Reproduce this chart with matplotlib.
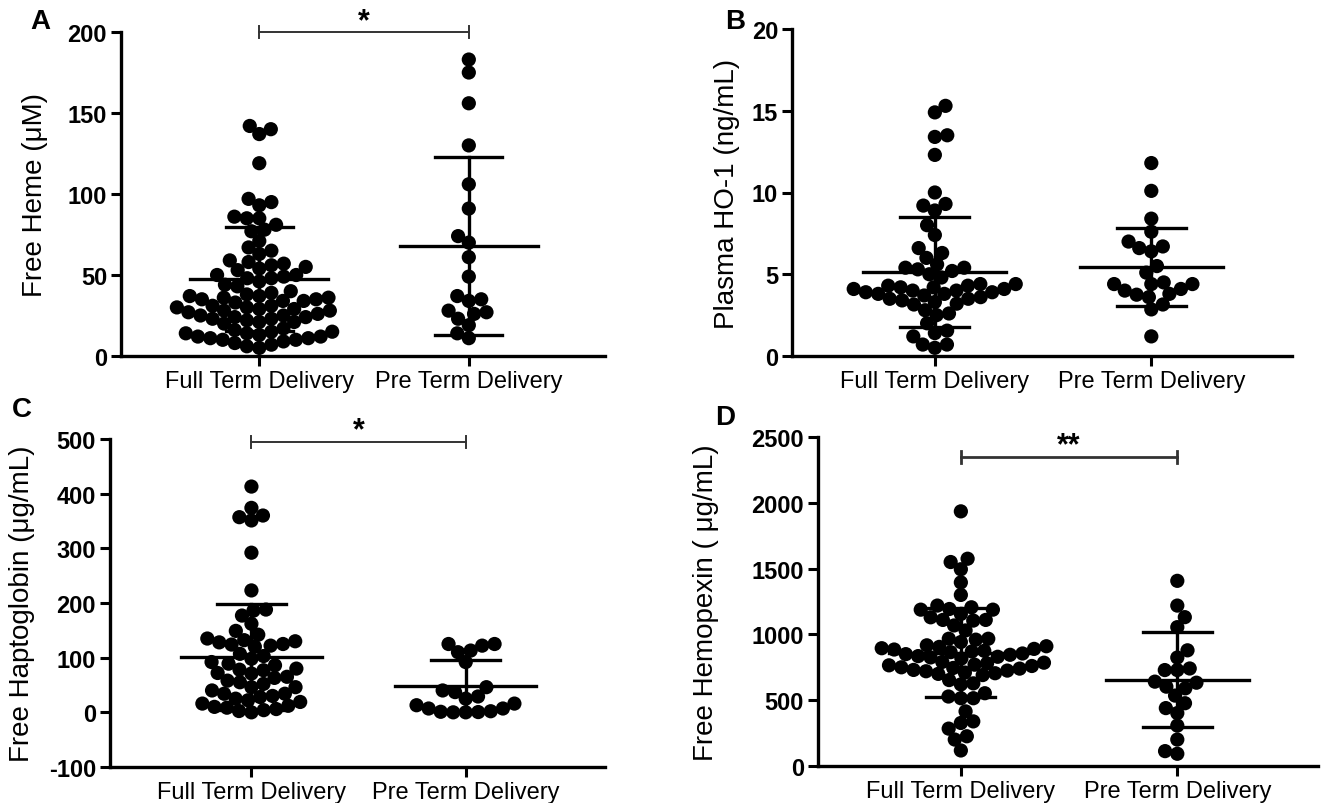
import numpy as np
import matplotlib
matplotlib.use("Agg")
import matplotlib.pyplot as plt

plt.rcParams['font.family'] = ['Liberation Sans', 'DejaVu Sans']

groups = ["Full Term Delivery", "Pre Term Delivery"]

# Panel A - free heme (uM)
heme_full = [142, 140, 137, 119, 97, 95, 93, 86, 85, 85, 81, 78, 77, 71, 67, 65,
             63, 59, 58, 57, 56, 55, 54, 53, 50, 50, 49, 48, 48, 46, 44, 43,
             40, 39, 38, 37, 37, 36, 36, 35, 35, 34, 34, 33,
             31, 31, 30, 30, 29, 29, 28, 28, 27,
             26, 25, 25, 24, 24, 23, 23, 22, 21, 21, 20,
             17, 16, 15, 15, 14, 14, 13, 12, 12, 11, 11, 10, 10, 9, 8, 7, 6, 5]
heme_pre = [183, 175, 156, 130, 106, 91, 74, 70, 61, 49, 37, 35, 34, 28, 27, 26,
            23, 19, 14, 11]
heme_mean = [47.5, 68]
heme_sd = [32, 55]

# Panel B - plasma HO-1 (ng/mL)
ho1_full = [15.3, 14.9, 13.5, 13.4, 12.3, 10.0, 9.3, 9.2, 8.9, 8.0, 7.4, 6.6, 6.3,
            6.0, 5.6, 5.4, 5.4, 5.3, 5.2, 5.0, 4.8, 4.4,
            4.4, 4.3, 4.3, 4.2, 4.2, 4.1, 4.1, 4.0, 4.0, 3.9, 3.9, 3.8, 3.8, 3.7,
            3.6, 3.5, 3.5, 3.4, 3.3, 3.2, 3.15,
            2.8, 2.6, 2.5, 2.0, 1.55, 1.4, 1.2, 0.7, 0.7, 0.5]
ho1_pre = [11.8, 10.1, 8.4, 7.6, 7.0, 6.7, 6.6, 6.4, 5.5, 5.1, 4.5, 4.4, 4.4, 4.4,
           4.1, 4.0, 3.8, 3.75, 3.6, 3.15, 2.85, 1.2]
ho1_mean = [5.15, 5.45]
ho1_sd = [3.35, 2.4]

# Panel C - free haptoglobin (ug/mL)
hp_full = [413, 374, 360, 357, 351, 292, 223, 188, 186, 177, 162, 149, 142,
           135, 132, 130, 128, 125, 124, 122, 120,
           107, 103, 98, 92, 89, 86, 80, 78,
           77, 72, 71, 65, 63, 58, 55, 52, 46, 46,
           40, 34, 34, 30, 28, 25, 22, 19, 16, 12, 10, 8.5, 6, 4, 2.4, 0]
hp_pre = [125, 125, 122, 113, 110, 92, 46, 40, 37, 29, 25, 16, 13, 7, 7, 2, 1,
          0.5, 0, 0]
hp_mean = [101, 49]
hp_sd = [97, 46]

# Panel D - free hemopexin (ug/mL)
hx_full = [1935, 1575, 1550, 1495, 1395, 1300, 1219, 1206, 1193, 1188, 1188, 1155,
           1130, 1110, 1110, 1105, 1068, 1030, 967, 967, 960, 942,
           917, 910, 905, 895, 890, 885, 875, 870, 865, 855, 850, 845, 835, 830,
           825, 817,
           791, 785, 780, 770, 765, 760, 750, 745, 740, 730, 725, 720, 710, 705,
           700, 691,
           653, 628, 620, 553, 528, 515, 515, 415, 339, 327, 284, 226, 201, 118]
hx_pre = [1407, 1219, 1131, 1055, 879, 824, 741, 729, 729, 641, 633, 603, 590, 535,
          477, 440, 402, 307, 201, 113, 93]
hx_mean = [862, 655]
hx_sd = [336, 362]

W, H = 1323, 804
fig = plt.figure(figsize=(W / 100, H / 100), dpi=100)


def swarm(ax, xc, values, diam):
    # simple beeswarm in pixel space, returns x positions in data units
    pts = ax.transData.transform(np.column_stack([np.full(len(values), xc),
                                                  np.asarray(values, float)]))
    ppx = ax.transData.transform([(xc + 1, 0)])[0, 0] - ax.transData.transform([(xc, 0)])[0, 0]
    ys = pts[:, 1]
    order = np.argsort(ys)
    placed = []
    offs = np.zeros(len(values))
    side = 1
    for i in order:
        y = ys[i]
        near = [(px, py) for px, py in placed if abs(py - y) < diam]
        cands = [0.0]
        for px, py in near:
            w = np.sqrt(diam ** 2 - (py - y) ** 2)
            cands += [px + w + 0.01, px - w - 0.01]
        ok = [c for c in cands
              if all((c - px) ** 2 + (y - py) ** 2 >= diam ** 2 - 0.1 for px, py in near)]
        ok.sort(key=lambda c: (round(abs(c), 2), -side * c))
        best = ok[0]
        side = -side
        placed.append((best, y))
        offs[i] = best
    return xc + offs / ppx


def panel(rect, full, pre, mean, sd, ylim, yticks, ylabel, letter, letter_xy,
          label_x, sig=None):
    left, right, top, bottom = rect
    ax = fig.add_axes([left / W, 1 - bottom / H, (right - left) / W, (bottom - top) / H])
    ax.set_xlim(-0.66, 1.65)
    ax.set_ylim(*ylim)
    for j, vals in enumerate([full, pre]):
        xs = swarm(ax, j, vals, 12.5)
        ax.scatter(xs, vals, s=105, color='black', edgecolors='none', zorder=3,
                   clip_on=False)
        m, s_ = mean[j], sd[j]
        ax.plot([j - 0.33, j + 0.33], [m, m], color='black', lw=2.4, zorder=4)
        ax.plot([j, j], [m - s_, m + s_], color='black', lw=2.4, zorder=4)
        for v in (m - s_, m + s_):
            ax.plot([j - 0.16, j + 0.16], [v, v], color='black', lw=2.4, zorder=4)
    for sp in ['top', 'right']:
        ax.spines[sp].set_visible(False)
    for sp in ['left', 'bottom']:
        ax.spines[sp].set_linewidth(2.4)
    ax.spines['bottom'].set_position(('data', ylim[0]))
    ax.set_yticks(yticks)
    ax.set_yticklabels([str(t) for t in yticks], fontsize=17, fontweight='bold')
    ax.set_xticks([0, 1])
    ax.set_xticklabels(groups, fontsize=17)
    ax.tick_params(axis='both', length=7, width=2.2, pad=3)
    ax.set_ylabel(ylabel, fontsize=20)
    ax.yaxis.label.set_va('center')
    ax.yaxis.set_label_coords((label_x - left) / (right - left), 0.5)
    fig.text(letter_xy[0] / W, 1 - letter_xy[1] / H, letter, fontsize=20,
             fontweight='bold', ha='center', va='center')
    if sig is not None:
        yb, text, lw = sig
        span = ylim[1] - ylim[0]
        t = span * 0.018
        ax.plot([0, 1], [yb, yb], color='#333333', lw=lw, clip_on=False)
        for xe in (0, 1):
            ax.plot([xe, xe], [yb - t, yb + t], color='#333333', lw=lw, clip_on=False)
        ax.text(0.5, yb - span * 0.012, text, fontsize=22, fontweight='bold',
                ha='center', va='bottom')
    return ax


panel((121, 605, 33, 357), heme_full, heme_pre, heme_mean, heme_sd,
      (0, 200), [0, 50, 100, 150, 200], "Free Heme (\u03bcM)", "A", (40, 22),
      35, sig=(200, "*", 1.4))
panel((792, 1292, 30, 357), ho1_full, ho1_pre, ho1_mean, ho1_sd,
      (0, 20), [0, 5, 10, 15, 20], "Plasma HO-1 (ng/mL)", "B", (735, 22),
      727)
panel((110, 605, 440, 768), hp_full, hp_pre, hp_mean, hp_sd,
      (-100, 500), [-100, 0, 100, 200, 300, 400, 500],
      "Free Haptoglobin (\u03bcg/mL)", "C", (22, 410), 22, sig=(495, "*", 1.4))
panel((818, 1318, 438, 767), hx_full, hx_pre, hx_mean, hx_sd,
      (0, 2500), [0, 500, 1000, 1500, 2000, 2500],
      "Free Hemopexin ( \u03bcg/mL)", "D", (725, 418), 706,
      sig=(2350, "**", 2.0))

fig.savefig("out.png", dpi=100)
